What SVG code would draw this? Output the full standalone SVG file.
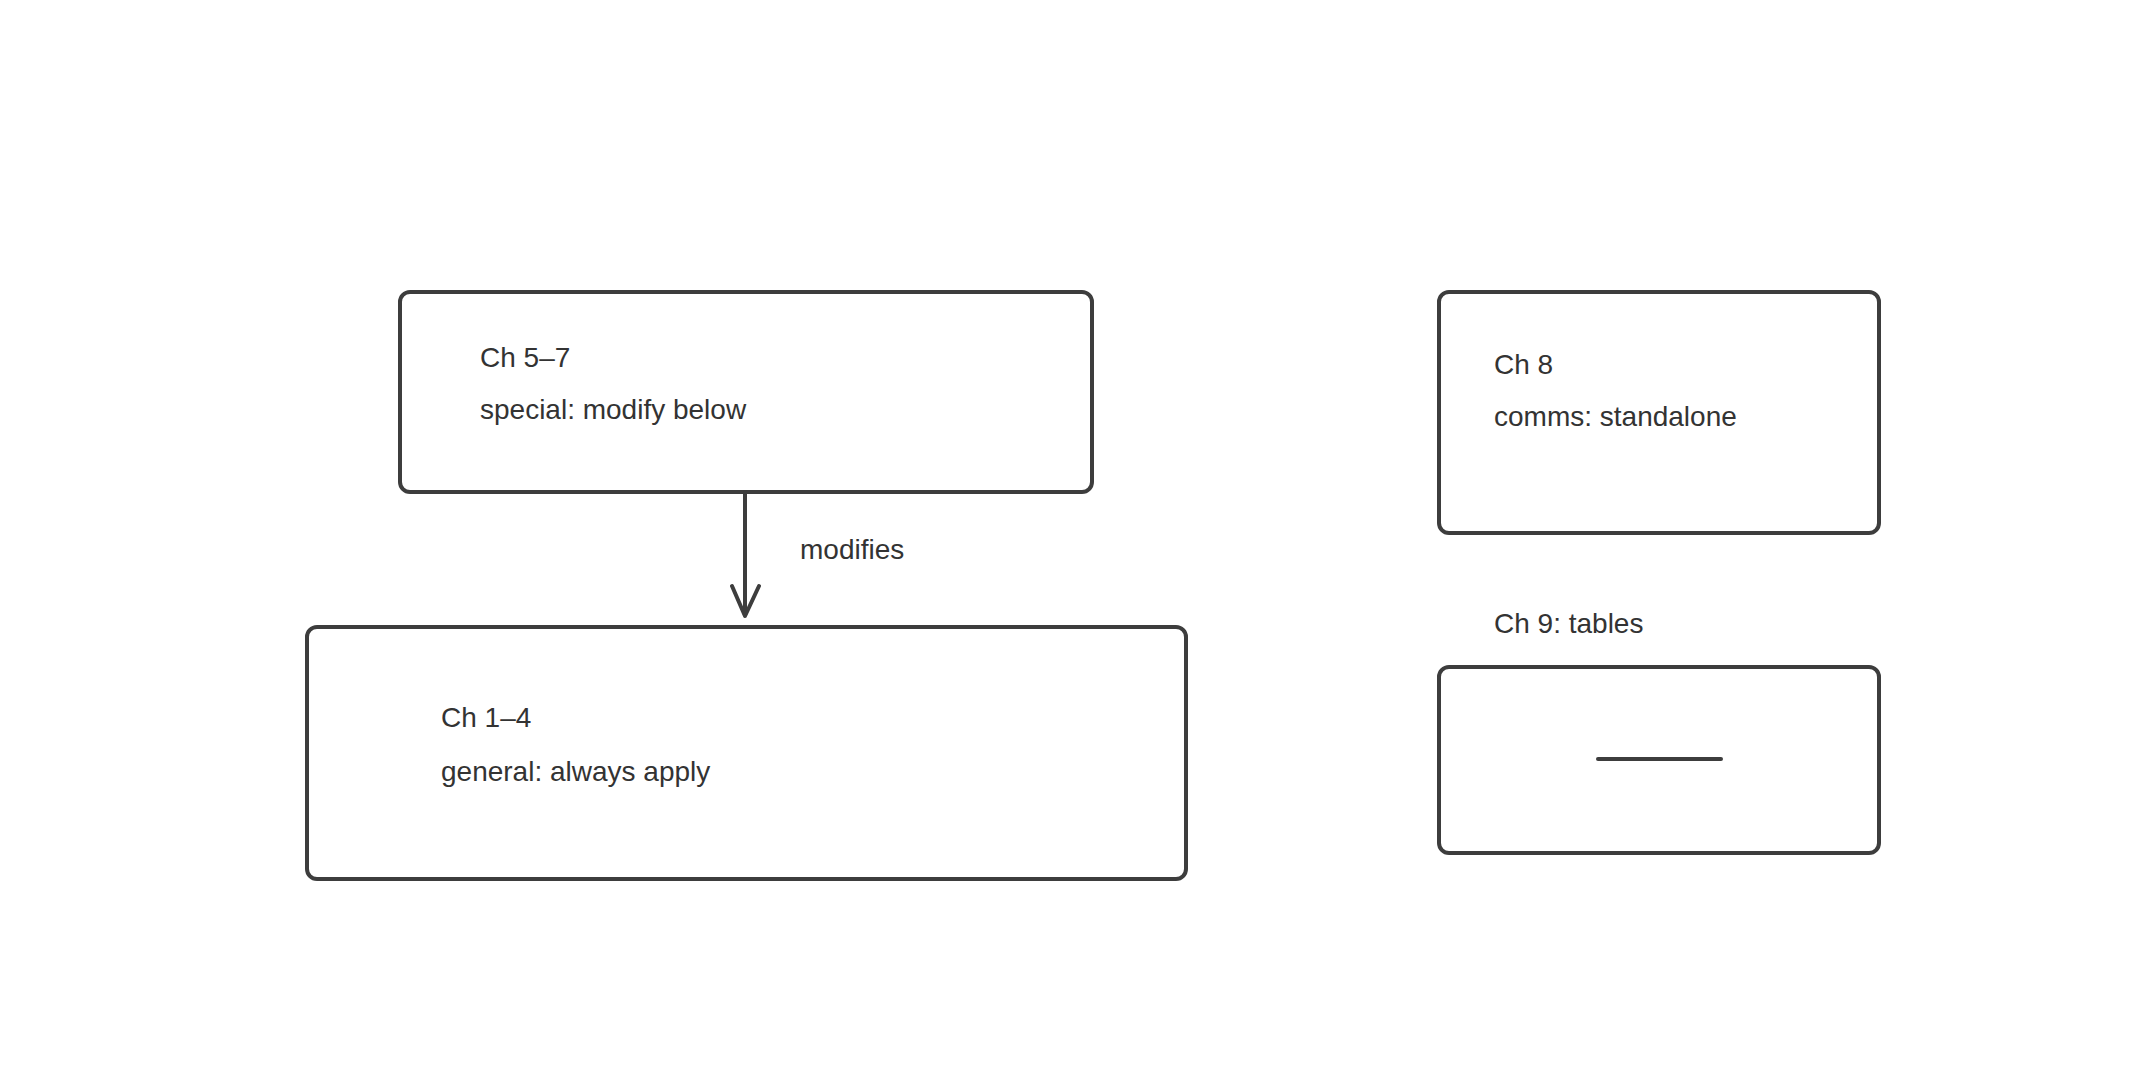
<svg xmlns="http://www.w3.org/2000/svg" width="2133" height="1067" viewBox="0 0 2133 1067">
<style>
.box{fill:#fff;stroke:#3d3d3d;stroke-width:4}
.t{font-family:"Liberation Sans",sans-serif;font-size:28px;fill:#333}
.c{stroke:#3d3d3d;stroke-width:4;fill:none;stroke-linecap:round;stroke-linejoin:round}
</style>
<rect width="2133" height="1067" fill="#fff"/>
<g id="ch57"><rect class="box" x="400" y="292" width="692" height="200" rx="10"/>
<text class="t" x="480" y="367">Ch 5–7</text><text class="t" x="480" y="419">special: modify below</text></g>
<g id="ch14"><rect class="box" x="307" y="627" width="879" height="252" rx="10"/>
<text class="t" x="441" y="727">Ch 1–4</text><text class="t" x="441" y="781">general: always apply</text></g>
<g id="ch8"><rect class="box" x="1439" y="292" width="440" height="241" rx="10"/>
<text class="t" x="1494" y="374">Ch 8</text><text class="t" x="1494" y="426">comms: standalone</text></g>
<g id="ch9"><text class="t" x="1494" y="633">Ch 9: tables</text>
<rect class="box" x="1439" y="667" width="440" height="186" rx="10"/>
<line class="c" x1="1598" y1="759" x2="1721" y2="759"/></g>
<g id="connectors"><path class="c" d="M745 492V616M732 586L745 616L759 586"/>
<text class="t" x="800" y="559">modifies</text></g>
</svg>
